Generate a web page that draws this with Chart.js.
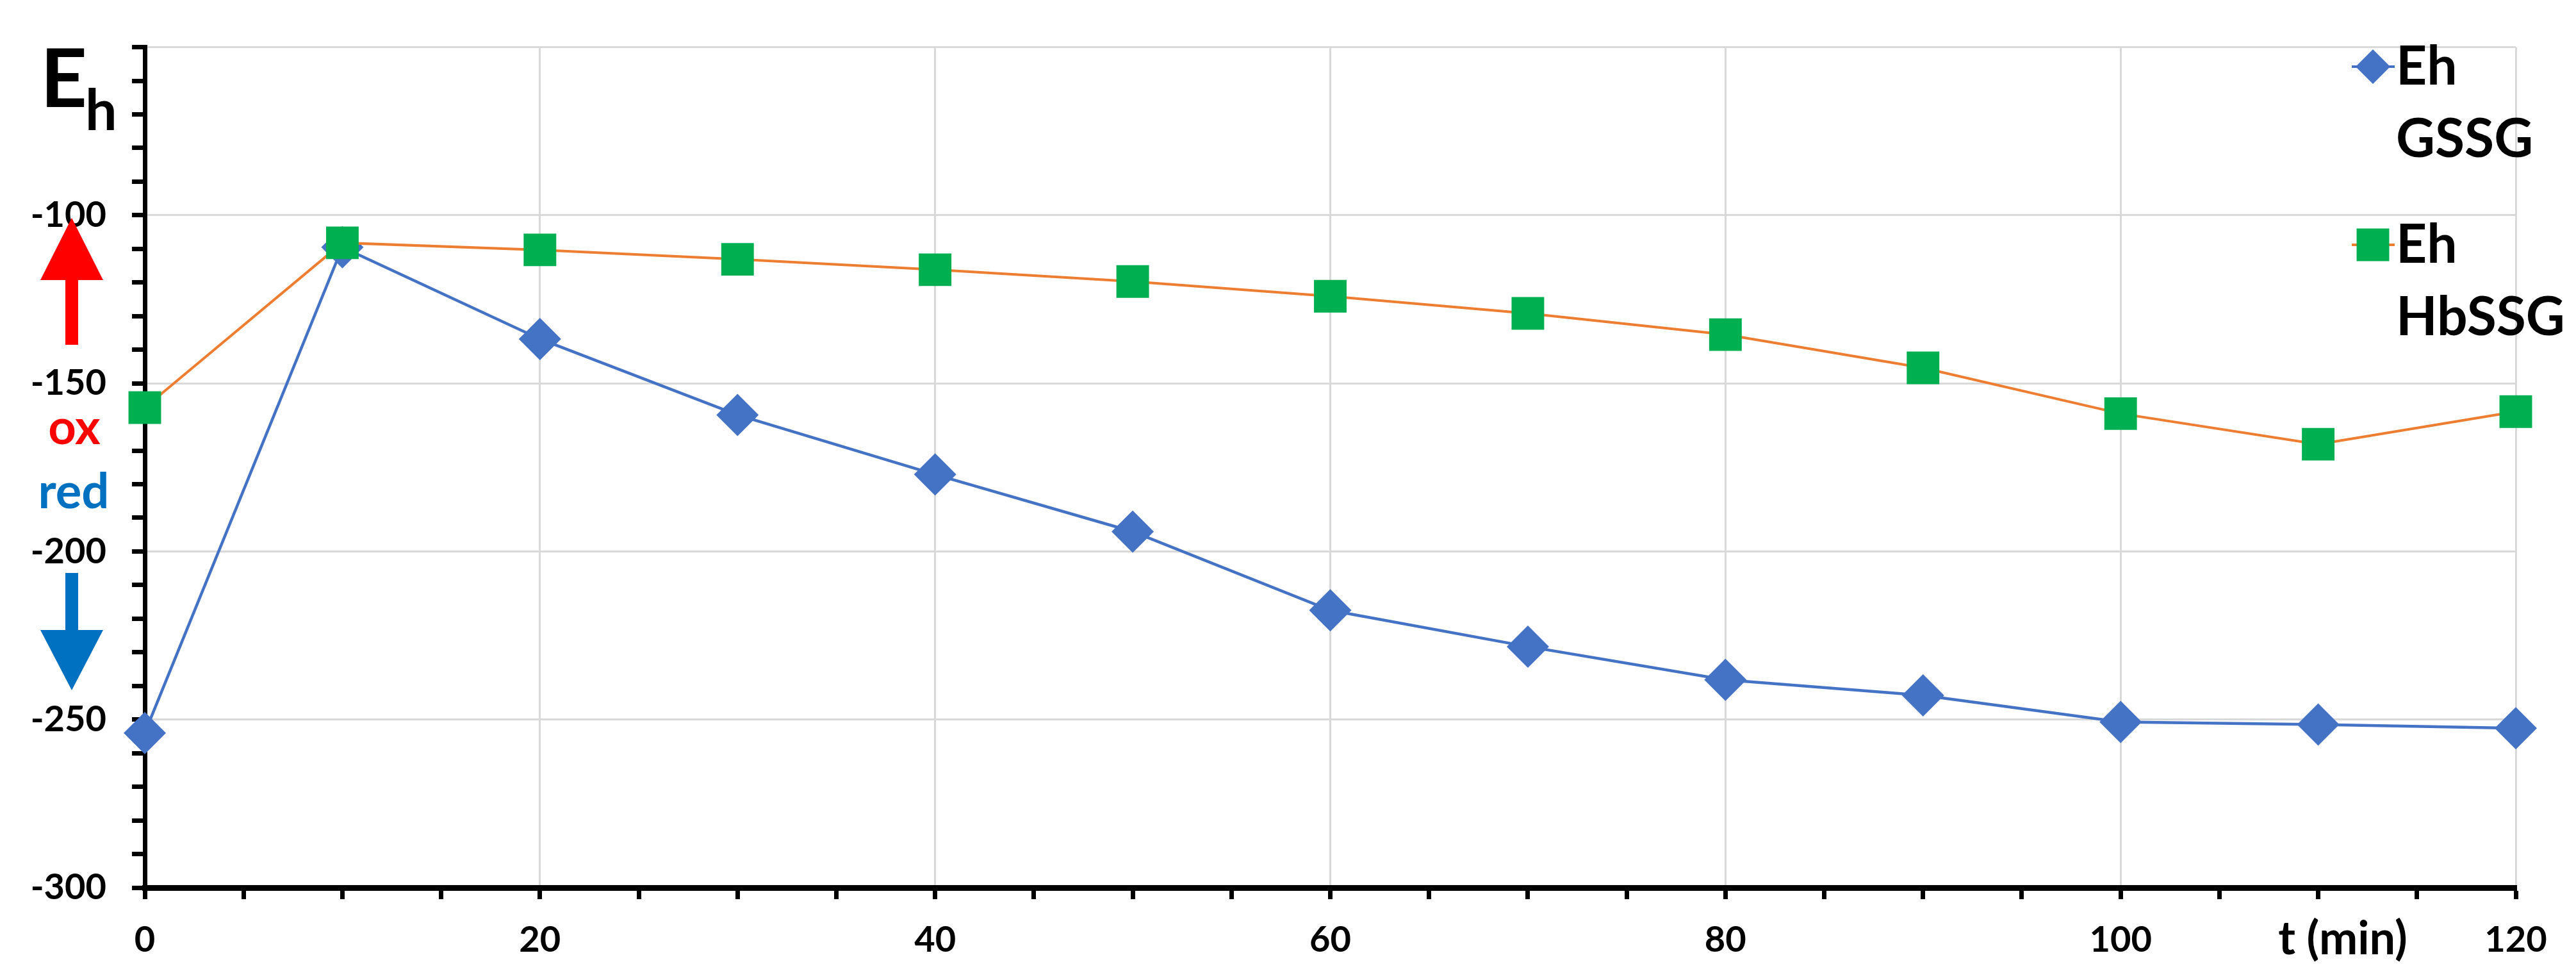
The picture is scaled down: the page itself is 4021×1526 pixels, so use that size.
<!DOCTYPE html>
<html>
<head>
<meta charset="utf-8">
<script src="https://cdn.jsdelivr.net/npm/chart.js@4.4.0/dist/chart.umd.min.js"></script>
<style>
  html, body { margin: 0; padding: 0; background: #fff; }
  #wrap { width: 4021px; height: 1526px; }
</style>
</head>
<body>
<div id="wrap"><canvas id="ehChart" width="4021" height="1526"></canvas></div>
<script>
// sampling times (min)
const times = [0, 10, 20, 30, 40, 50, 60, 70, 80, 90, 100, 110, 120];
// redox potentials (mV)
const ehGSSG = [-254, -109.5, -136.8, -159.4, -177.1, -194.1, -217.5, -228.3, -238.2, -242.8, -250.7, -251.5, -252.6];
const ehHbSSG = [-157.2, -108.2, -110.3, -113.1, -116.2, -119.7, -124.1, -129.2, -135.5, -145.4, -159, -168.1, -158.4];
const seriesNames = [['Eh', 'GSSG'], ['Eh', 'HbSSG']];
// labelled ticks
const xTickLabels = [0, 20, 40, 60, 80, 100, 120];
const yTickLabels = [-100, -150, -200, -250, -300];

const FONT = 'Lato, "Open Sans", sans-serif';

function toPoints(ys) {
    return times.map((t, i) => ({ x: t, y: ys[i] }));
}

// minor tick marks every `step` between min and max
function setTicks(scale, step) {
    const ticks = [];
    for (let v = scale.min; v <= scale.max + 1e-9; v += step) {
        ticks.push({ value: v });
    }
    scale.ticks = ticks;
}

// draws the Eh label, ox/red arrows, the axis title and the legend
const decorations = {
    id: 'decorations',
    afterDraw(chart) {
        const ctx = chart.ctx;
        ctx.save();

        // E_h
        ctx.fillStyle = '#000';
        ctx.textBaseline = 'alphabetic';
        ctx.textAlign = 'left';
        ctx.font = 'bold 127px ' + FONT;
        ctx.fillText('E', 63, 167);
        ctx.font = 'bold 88px ' + FONT;
        ctx.fillText('h', 133, 203);

        // arrows
        function arrow(color, tipY, baseY, tailY) {
            const cx = 112;
            ctx.fillStyle = color;
            ctx.beginPath();
            ctx.moveTo(cx, tipY);
            ctx.lineTo(cx + 49, baseY);
            ctx.lineTo(cx + 10, baseY);
            ctx.lineTo(cx + 10, tailY);
            ctx.lineTo(cx - 10, tailY);
            ctx.lineTo(cx - 10, baseY);
            ctx.lineTo(cx - 49, baseY);
            ctx.closePath();
            ctx.fill();
        }
        arrow('#ff0000', 340, 437, 538);
        arrow('#0070c0', 1077, 983, 894);

        ctx.textAlign = 'center';
        ctx.font = 'bold 76px ' + FONT;
        ctx.fillStyle = '#ff0000';
        ctx.fillText('ox', 116, 693);
        ctx.fillStyle = '#0070c0';
        ctx.fillText('red', 115, 793);

        // x axis title
        ctx.fillStyle = '#000';
        ctx.font = 'bold 72px ' + FONT;
        ctx.fillText('t (min)', 3657, 1489);

        // legend
        const legendY = [104, 382];
        chart.data.datasets.forEach((ds, i) => {
            const cy = legendY[i];
            ctx.strokeStyle = ds.borderColor;
            ctx.lineWidth = 4;
            ctx.beginPath();
            ctx.moveTo(3671, cy);
            ctx.lineTo(3738, cy);
            ctx.stroke();
            ctx.fillStyle = ds.pointBackgroundColor;
            Chart.helpers.drawPoint(ctx, {
                pointStyle: ds.pointStyle,
                radius: ds.pointStyle === 'rect' ? 36 : 27,
                rotation: 0,
                borderWidth: 0
            }, 3704, cy);
            ctx.fillStyle = '#000';
            ctx.textAlign = 'left';
            ctx.font = 'bold 84px ' + FONT;
            seriesNames[i].forEach((line, j) => {
                ctx.fillText(line, 3740, cy + 28 + j * 113);
            });
        });

        ctx.restore();
    }
};

function createEhChart() {
    const ctx = document.getElementById('ehChart').getContext('2d');

    const data = {
        datasets: [{
            label: seriesNames[0].join(' '),
            data: toPoints(ehGSSG),
            borderColor: '#4472c4',
            borderWidth: 4.5,
            pointStyle: 'rectRot',
            pointRadius: 33,
            pointBackgroundColor: '#4472c4',
            pointBorderWidth: 0,
            order: 1,
            clip: false
        }, {
            label: seriesNames[1].join(' '),
            data: toPoints(ehHbSSG),
            borderColor: '#ed7d31',
            borderWidth: 4,
            pointStyle: 'rect',
            pointRadius: 36,
            pointBackgroundColor: '#00b050',
            pointBorderWidth: 0,
            order: 0,
            clip: false
        }]
    };

    const config = {
        type: 'line',
        data: data,
        plugins: [decorations],
        options: {
            responsive: false,
            animation: false,
            layout: {
                padding: { top: 47, right: 94, left: 0, bottom: 0 }
            },
            scales: {
                x: {
                    type: 'linear',
                    min: 0,
                    max: 120,
                    afterBuildTicks: (scale) => setTicks(scale, 5),
                    afterFit: (scale) => { scale.height = 141; },
                    border: { display: true, color: '#000', width: 9 },
                    grid: {
                        color: (c) => (c.tick && c.tick.value !== 0 && c.tick.value % 20 === 0) ? '#d9d9d9' : 'rgba(0,0,0,0)',
                        lineWidth: 3,
                        tickColor: '#000',
                        tickWidth: 7,
                        tickLength: 18
                    },
                    ticks: {
                        autoSkip: false,
                        maxRotation: 0,
                        padding: 30,
                        color: '#000',
                        font: { family: FONT, size: 56, weight: 'bold' },
                        callback: (v) => xTickLabels.includes(v) ? String(v) : ''
                    }
                },
                y: {
                    min: -300,
                    max: -50,
                    afterBuildTicks: (scale) => setTicks(scale, 10),
                    afterFit: (scale) => { scale.width = 226; },
                    border: { display: true, color: '#000', width: 7 },
                    grid: {
                        color: (c) => (c.tick && c.tick.value % 50 === 0 && c.tick.value !== -300) ? '#d9d9d9' : 'rgba(0,0,0,0)',
                        lineWidth: 3,
                        tickColor: '#000',
                        tickWidth: 7,
                        tickLength: 20
                    },
                    ticks: {
                        autoSkip: false,
                        padding: 40,
                        color: '#000',
                        font: { family: FONT, size: 56, weight: 'bold' },
                        callback: (v) => yTickLabels.includes(v) ? String(v) : ''
                    }
                }
            },
            plugins: {
                legend: { display: false },
                tooltip: { enabled: false }
            }
        }
    };

    return new Chart(ctx, config);
}

createEhChart();
</script>
</body>
</html>
